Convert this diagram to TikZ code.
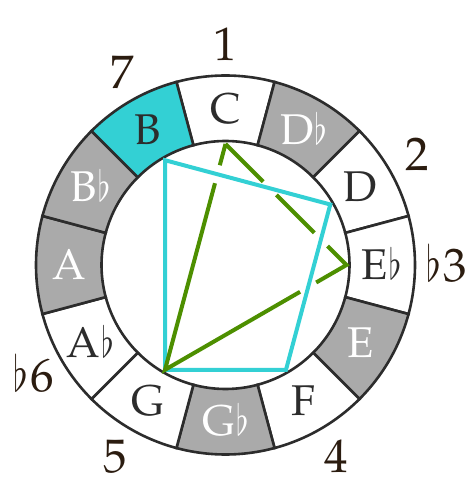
\documentclass[tikz,border=0pt]{standalone}
\usepackage{graphicx}
\usepackage{fontspec}
\setmainfont{TeX Gyre Pagella}
\usetikzlibrary{calc}
\definecolor{ringgray}{HTML}{AAAAAA}
\definecolor{cyanB}{HTML}{33D0D4}
\definecolor{greenT}{HTML}{4D8F00}
\definecolor{ink}{HTML}{2C2C2C}
\definecolor{numink}{HTML}{2B1C10}
\newcommand{\myflat}{\kern1pt\scalebox{3.2}[4.3]{\fontsize{10}{10}\selectfont$\flat$}}
\newcommand{\numflat}{\scalebox{3.8}[5.0]{\fontsize{10}{10}\selectfont$\flat$}\kern2pt}
\begin{document}
\begin{tikzpicture}[x=1pt,y=1pt,
  seg/.style={draw=ink, line width=2.6pt},
  notelabel/.style={font=\fontsize{43}{43}\selectfont, text height=30pt, text depth=0pt, inner sep=0pt, anchor=center},
  numlabel/.style={font=\fontsize{47}{47}\selectfont, text=numink, text height=33pt, text depth=0pt, inner sep=0pt, anchor=center},
  quad/.style={draw=cyanB, line width=4pt},
  triad/.style={draw=greenT, line width=4pt,
    dash pattern=on 53.35pt off 18.6pt on 53.71pt off 18.6pt on 61.85pt off 18.6pt on 349.13pt off 18.6pt on 22.02pt off 1pt}]
\useasboundingbox (0,0) rectangle (474,496);
\coordinate (O) at (225.5,231);
\def\Ro{189.5}
\def\Ri{124}
\foreach \ang/\fillc/\txtc/\lab/\nm in {90/white/ink/C/C, 60/ringgray/white/D\myflat/Db, 30/white/ink/D/D, 0/white/ink/E\myflat/Eb, -30/ringgray/white/E/E, -60/white/ink/F/F, -90/ringgray/white/G\myflat/Gb, -120/white/ink/G/G, -150/white/ink/A\myflat/Ab, 180/ringgray/white/A/A, 150/ringgray/white/B\myflat/Bb, 120/cyanB/ink/B/B}{
  \filldraw[seg, fill=\fillc] ($(O)+(\ang-15:\Ro)$) arc[start angle=\ang-15, end angle=\ang+15, radius=\Ro] -- ($(O)+(\ang+15:\Ri)$) arc[start angle=\ang+15, end angle=\ang-15, radius=\Ri] -- cycle;
  \node[notelabel, text=\txtc] (n\nm) at ($(O)+(\ang:156)$) {\lab};
  \coordinate (v\nm) at ($(O)+(\ang:121)$);
}
\node[numlabel] (d1) at ($(O)+(90:221)$) {1};
\node[numlabel] (d2) at ($(O)+(30:221)$) {2};
\node[numlabel] (d3) at ($(O)+(0:221)$) {\numflat3};
\node[numlabel] (d4) at ($(O)+(-60:221)$) {4};
\node[numlabel] (d5) at ($(O)+(-120:221)$) {5};
\node[numlabel] (d6) at ($(O)+(-150:221)$) {\numflat6};
\node[numlabel] (d7) at ($(O)+(118:219)$) {7};
\draw[quad] (vB) -- (vD) -- (vF) -- (vG) -- cycle;
\draw[triad] (vC) -- (vEb) -- (vG) -- cycle;
\end{tikzpicture}
\end{document}
